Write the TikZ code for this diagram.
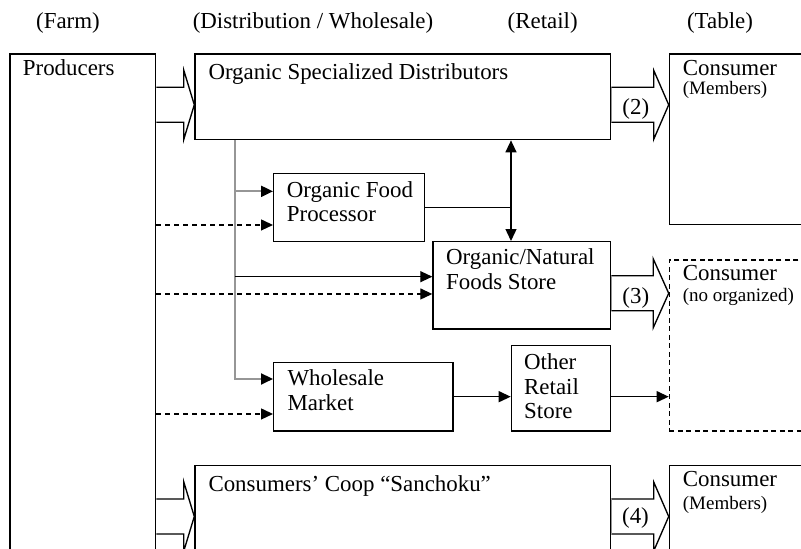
\documentclass[tikz,border=0pt]{standalone}
\usepackage{fontspec}
\setmainfont{Liberation Serif}
\usetikzlibrary{arrows.meta,calc}
\definecolor{linegray}{RGB}{150,150,150}
\newcommand\hollowarr[3]{% #1 source anchor, #2 tip coordinate, #3 head length
  \draw[hollow] ($(#1 |- #2)+(0,-17.5)$) -- ($(#2)+(-#3,-17.5)$) -- ($(#2)+(-#3,-34.5)$)
     -- (#2) -- ($(#2)+(-#3,34.5)$) -- ($(#2)+(-#3,17.5)$) -- ($(#1 |- #2)+(0,17.5)$);}
\begin{document}
\begin{tikzpicture}[x=1pt,y=-1pt,
  box/.style={draw=black, line width=1.35pt, inner sep=0pt, anchor=north west},
  dbox/.style={box, dash pattern=on 5pt off 3.5pt},
  big/.style={font=\fontsize{22.9}{24.5}\selectfont, inner sep=0pt, align=left},
  small/.style={font=\fontsize{19}{20}\selectfont, inner sep=0pt},
  ln/.style={line width=1.35pt, draw=black},
  tip/.style={-{Triangle[length=12pt,width=11pt,color=black]}},
  dtip/.style={{Triangle[length=12pt,width=11pt]}-{Triangle[length=12pt,width=11pt]}},
  gln/.style={line width=2pt, draw=linegray},
  dsh/.style={line width=1.35pt, dash pattern=on 5pt off 4pt},
  hollow/.style={line width=1.35pt, draw=black, fill=white, line join=miter},
  gedge/.style={line width=1.6pt, draw=linegray}
]
\useasboundingbox (0,0) rectangle (801,549);
\clip (0,0) rectangle (801,549);

% column headers
\node[big, anchor=base] (hfarm) at (68,28) {(Farm)};
\node[big, anchor=base] (hdist) at (313,28) {(Distribution / Wholesale)};
\node[big, anchor=base] (hret)  at (542.7,28) {(Retail)};
\node[big, anchor=base] (htab)  at (720,28) {(Table)};

% boxes
\node[box, minimum width=145.7pt, minimum height=620pt] (prod) at (9.3,53.3) {};
\node[box, minimum width=415.7pt, minimum height=85.7pt] (osd) at (194.3,53.3) {};
\node[box, minimum width=151pt, minimum height=68.3pt] (ofp) at (273,172.7) {};
\node[box, minimum width=177.7pt, minimum height=87.3pt] (ons) at (432.3,241) {};
\node[box, minimum width=179.3pt, minimum height=68.6pt] (wm) at (273,361.7) {};
\node[box, minimum width=99.3pt, minimum height=85.3pt] (ors) at (510.7,345) {};
\node[box, minimum width=415.7pt, minimum height=200pt] (coop) at (194.3,465) {};
\node[box, minimum width=200pt, minimum height=170.7pt] (c1) at (668.7,53.3) {};
\node[dbox, minimum width=200pt, minimum height=171pt] (c2) at (668.7,259.3) {};
\node[box, minimum width=200pt, minimum height=200pt] (c3) at (668.7,465) {};

% texts
\node[big, anchor=base west] (tprod) at (22.7,75.5) {Producers};
\node[big, anchor=base west] (tosd) at (208.3,79.3) {Organic Specialized Distributors};
\node[big, anchor=north west] (tofp) at (286.7,181.3) {Organic Food\\Processor};
\node[big, anchor=north west] (tons) at (446,248.9) {Organic/Natural\\Foods Store};
\node[big, anchor=north west] (twm) at (287.3,369.6) {Wholesale\\Market};
\node[big, anchor=north west] (tors) at (524,353.9) {Other\\Retail\\Store};
\node[big, anchor=base west] (tcoop) at (208.3,491.7) {Consumers’ Coop “Sanchoku”};
\node[big, anchor=base west] (tc1) at (682.7,75.7) {Consumer};
\node[small, anchor=base west] (tc1b) at (682.7,94.3) {(Members)};
\node[big, anchor=base west] (tc2) at (682.7,280) {Consumer};
\node[small, anchor=base west] (tc2b) at (682.7,301.7) {(no organized)};
\node[big, anchor=base west] (tc3) at (682.7,486.7) {Consumer};
\node[small, anchor=base west] (tc3b) at (682.7,509.3) {(Members)};

% hollow arrows
\coordinate (y1) at (0,104.8);
\coordinate (y3) at (0,293.3);
\coordinate (y4) at (0,516.5);
\coordinate (t1) at (osd.west |- y1);
\coordinate (t2) at (c1.west |- y1);
\coordinate (t3) at (c2.west |- y3);
\coordinate (t4) at (c3.west |- y4);
\coordinate (t5) at (coop.west |- y4);
\hollowarr{prod.east}{t1}{10.5}
\hollowarr{osd.east}{t2}{15}
\hollowarr{ons.east}{t3}{15.5}
\hollowarr{coop.east}{t4}{15}
\hollowarr{prod.east}{t5}{10.5}
\draw[gedge] ($(osd.east |- t2)+(0,-17)$) -- ($(osd.east |- t2)+(0,17)$);
\draw[gedge] ($(ons.east |- t3)+(0,-17)$) -- ($(ons.east |- t3)+(0,17)$);
\draw[gedge] ($(coop.east |- t4)+(0,-17)$) -- ($(coop.east |- t4)+(0,17)$);
\node[big] (l2) at (635.8,108.5) {(2)};
\node[big] (l3) at (635.8,298) {(3)};
\node[big] (l4) at (635.5,518.3) {(4)};

% connectors
\coordinate (dx) at (511,0);
\coordinate (gx) at (235,0);
\draw[ln, dtip] (osd.south -| dx) -- (ons.north -| dx);
\draw[ln] (ofp.east) -- (ofp.east -| dx);

\coordinate (ofpin) at ($(ofp.west)+(0,-16.2)$);
\coordinate (wmin) at ($(wm.west)+(0,-17.7)$);
\coordinate (onsin) at ($(ons.west)+(0,-8.65)$);
\draw[gln, tip] (osd.south -| gx) |- (wmin);
\draw[gln, tip] (gx |- ofpin) -- (ofpin);
\draw[ln, tip] (gx |- onsin) -- (onsin);

\coordinate (ofpd) at ($(ofp.west)+(0,17.45)$);
\coordinate (onsd) at ($(ons.west)+(0,8.65)$);
\coordinate (wmd) at ($(wm.west)+(0,17.3)$);
\draw[dsh, tip] (prod.east |- ofpd) -- (ofpd);
\draw[dsh, tip] (prod.east |- onsd) -- (onsd);
\draw[dsh, tip] (prod.east |- wmd) -- (wmd);

\draw[ln, tip] (wm.east) -- (wm.east -| ors.west);
\draw[ln, tip] (ors.east |- wm.east) -- (c2.west |- wm.east);
\end{tikzpicture}
\end{document}
